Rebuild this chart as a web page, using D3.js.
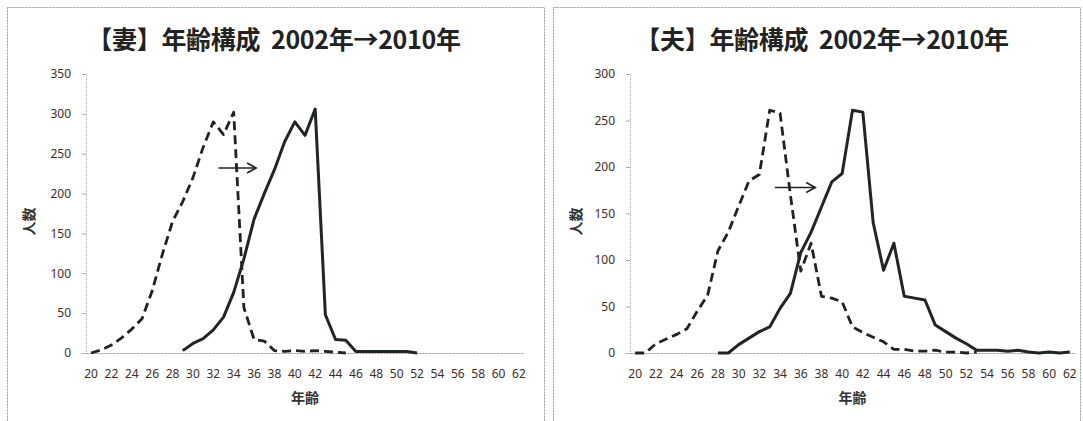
<!DOCTYPE html>
<html><head><meta charset="utf-8">
<script src="https://cdn.jsdelivr.net/npm/d3@7"></script>
<style>
html,body{margin:0;padding:0;background:#fff;}
svg{display:block;}
</style></head>
<body>
<svg id="c" width="1083" height="421"></svg>
<script>
// ---- data ----
const ages = [20,21,22,23,24,25,26,27,28,29,30,31,32,33,34,35,36,37,38,39,40,41,42,43,44,45,46,47,48,49,50,51,52,53,54,55,56,57,58,59,60,61,62];
const ageTicks = [20,22,24,26,28,30,32,34,36,38,40,42,44,46,48,50,52,54,56,58,60,62];
const N = null;
// 妻 (wife)
const wife2002 = [0,4,10,19,30,43,78,124,165,190,220,258,290,274,302,57,17,15,3,2,3,2,3,2,1,0,
  N,N,N,N,N,N,N,N,N,N,N,N,N,N,N,N,N];
const wife2010 = [N,N,N,N,N,N,N,N,N,
  3,12,18,29,45,76,118,168,200,230,265,290,273,306,48,17,16,2,2,2,2,2,2,0,
  N,N,N,N,N,N,N,N,N,N];
const wifeYTicks = [0,50,100,150,200,250,300,350];
// 夫 (husband)
const husband2002 = [0,0,10,15,20,26,45,62,110,130,158,185,192,261,258,170,88,118,61,59,55,28,22,17,12,4,4,2,2,3,1,1,0,1,
  N,N,N,N,N,N,N,N,N];
const husband2010 = [N,N,N,N,N,N,N,N,
  0,0,9,16,23,28,48,64,108,130,157,184,193,261,259,140,89,118,61,59,57,30,23,16,10,3,3,3,2,3,1,0,1,0,1];
const husbandYTicks = [0,50,100,150,200,250,300];
// arrows: [fromAge, toAge, value]
const wifeArrow = [32.5, 36.2, 232];
const husbandArrow = [33.5, 37.4, 178];

const titles = ["【妻】年齢構成  2002年→2010年", "【夫】年齢構成  2002年→2010年"];
const yTitle = "人数", xTitle = "年齢";

// ---- layout ----
const svg = d3.select("#c");
const panels = [
  {frame:[7,7,537,430], x0:86, x1:524, yTop:74, yBot:353, yMax:350, yTicks:wifeYTicks,
   s2002:wife2002, s2010:wife2010, arrow:wifeArrow, title:titles[0], tx:274, ytx:34},
  {frame:[553,7,527,430], x0:630, x1:1075, yTop:74, yBot:353, yMax:300, yTicks:husbandYTicks,
   s2002:husband2002, s2010:husband2010, arrow:husbandArrow, title:titles[1], tx:822, ytx:581}
];

panels.forEach(p => {
  const g = svg.append("g");
  g.append("rect").attr("x",p.frame[0]+0.5).attr("y",p.frame[1]+0.5)
    .attr("width",p.frame[2]).attr("height",p.frame[3])
    .attr("fill","none").attr("stroke","#9a9a9a").attr("stroke-width",1)
    .attr("stroke-dasharray","2,1");

  const x = d3.scaleBand().domain(ages).range([p.x0,p.x1]).padding(0);
  const cx = a => x(a) + x.bandwidth()/2;
  const xc = v => { // fractional age to pixel
    const i = Math.floor(v); return cx(i) + (v-i)*x.step();
  };
  const y = d3.scaleLinear().domain([0,p.yMax]).range([p.yBot,p.yTop]);

  // title
  g.append("text").attr("x",p.tx).attr("y",49).attr("text-anchor","middle")
    .style("white-space","pre").attr("letter-spacing","-0.3")
    .attr("font-family","'Noto Sans CJK JP', sans-serif").attr("font-weight","bold")
    .attr("font-size",25).attr("fill","#222").text(p.title);

  // y axis
  const ya = g.append("g").attr("transform",`translate(${p.x0},0)`)
    .call(d3.axisLeft(y).tickValues(p.yTicks).tickSize(4).tickPadding(11));
  ya.select(".domain").attr("stroke","#aaa").attr("stroke-dasharray","1,1");
  ya.selectAll(".tick line").attr("stroke","#aaa");
  ya.selectAll(".tick text").attr("font-family","'Noto Sans', sans-serif")
    .attr("font-size",12).attr("fill","#3e2c2c");

  // x axis
  const xa = g.append("g").attr("transform",`translate(0,${p.yBot})`)
    .call(d3.axisBottom(x).tickValues(ageTicks).tickSize(0).tickPadding(16));
  xa.select(".domain").attr("stroke","#999").attr("stroke-dasharray","2,1");
  xa.selectAll(".tick text").attr("font-family","'Noto Sans', sans-serif")
    .attr("font-size",12).attr("fill","#3e2c2c");

  // axis titles
  g.append("text").attr("transform",`translate(${p.ytx},${(p.yTop+p.yBot)/2+8}) rotate(-90)`)
    .attr("text-anchor","middle").attr("font-family","'Noto Sans CJK JP', sans-serif")
    .attr("font-weight","bold").attr("font-size",14).attr("fill","#333").text(yTitle);
  g.append("text").attr("x",(p.x0+p.x1)/2).attr("y",403).attr("text-anchor","middle")
    .attr("font-family","'Noto Sans CJK JP', sans-serif")
    .attr("font-weight","bold").attr("font-size",14).attr("fill","#333").text(xTitle);

  const line = d3.line().defined(d => d.v !== null).x(d => cx(d.a)).y(d => y(d.v));
  const pts = s => ages.map((a,i) => ({a, v:s[i]}));

  g.append("path").datum(pts(p.s2002)).attr("d",line)
    .attr("fill","none").attr("stroke","#222").attr("stroke-width",2.8)
    .attr("stroke-dasharray","9,5").attr("stroke-linejoin","round");
  g.append("path").datum(pts(p.s2010)).attr("d",line)
    .attr("fill","none").attr("stroke","#1f2624").attr("stroke-width",3)
    .attr("stroke-linejoin","round");

  // arrow
  const ax1 = xc(p.arrow[0]), ax2 = xc(p.arrow[1]), ay = y(p.arrow[2]);
  g.append("line").attr("x1",ax1).attr("x2",ax2).attr("y1",ay).attr("y2",ay)
    .attr("stroke","#222").attr("stroke-width",1.6);
  g.append("path").attr("d",`M${ax2-9},${ay-5}L${ax2},${ay}L${ax2-9},${ay+5}`)
    .attr("fill","none").attr("stroke","#222").attr("stroke-width",1.6);
});
</script>
</body></html>
